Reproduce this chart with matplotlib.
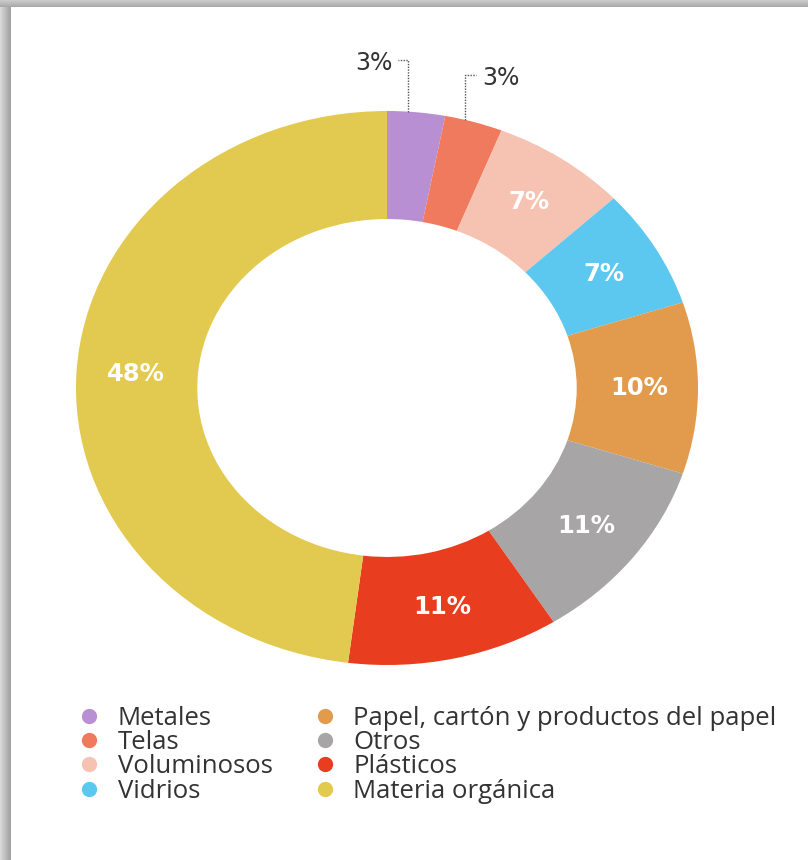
import numpy as np
import matplotlib
matplotlib.use("Agg")
import matplotlib.pyplot as plt
from matplotlib.lines import Line2D

# data (clockwise from the top)
categories = ["Metales", "Telas", "Voluminosos", "Vidrios",
              "Papel, cartón y productos del papel", "Otros",
              "Plásticos", "Materia orgánica"]
values = [3, 3, 7, 7, 10, 11, 11, 48]
colors = ["#b98fd4", "#f07a5e", "#f6c2b2", "#5cc8f0",
          "#e29b4c", "#a7a5a5", "#e83d1e", "#e2c94f"]
outside = ["Metales", "Telas"]   # small slices labelled outside

W, H = 808, 860
fig = plt.figure(figsize=(W / 100, H / 100), dpi=100)
fig.patch.set_facecolor("white")

# shadowed frame on the top and left edges
left = fig.add_axes([0, 0, 11 / W, 1])
left.imshow(np.linspace(0.86, 0.62, 50)[None, :], cmap="gray", vmin=0, vmax=1,
            aspect="auto", extent=[0, 1, 0, 1])
left.axis("off")
top = fig.add_axes([0, 1 - 7 / H, 1, 7 / H])
top.imshow(np.linspace(0.80, 0.66, 20)[:, None], cmap="gray", vmin=0, vmax=1,
           aspect="auto", extent=[0, 1, 0, 1])
top.axis("off")

# donut (slightly wider than tall, like the reference)
ax = fig.add_axes([76 / W, 1 - 665 / H, 622 / W, 554 / H])
wedges, _ = ax.pie(values, colors=colors, startangle=90, counterclock=False,
                   radius=1, wedgeprops=dict(width=0.39, linewidth=0))
ax.set_aspect("auto")
ax.set_xlim(-1, 1)
ax.set_ylim(-1, 1)
ax.axis("off")

for w, cat, v in zip(wedges, categories, values):
    if cat in outside:
        continue
    a = np.deg2rad((w.theta1 + w.theta2) / 2)
    ax.text(0.81 * np.cos(a), 0.81 * np.sin(a), f"{v}%", color="white",
            fontsize=17.5, fontweight="bold", family="DejaVu Sans",
            ha="center", va="center")

# leader lines for the two 3% slices
leader = dict(color="#555555", lw=1, ls=(0, (1, 1)), clip_on=False)
for w, cat, v in zip(wedges, categories, values):
    if cat not in outside:
        continue
    a = np.deg2rad(w.theta1 + 0.65 * (w.theta2 - w.theta1))
    x0, y0 = np.cos(a), np.sin(a)
    if cat == "Metales":
        ytop, dx, ha = 1.184, -0.03, "right"
    else:
        ytop, dx, ha = 1.13, 0.035, "left"
    ax.plot([x0, x0, x0 + dx], [y0, ytop, ytop], **leader)
    ax.text(x0 + dx * 1.6, ytop - 0.012, f"{v}%", color="#333333", fontsize=17,
            family="DejaVu Sans", ha=ha, va="center")

# legend
handles = [Line2D([], [], ls="", marker="o", markersize=11, color=c,
                  markeredgewidth=0) for c in colors]
leg = fig.legend(handles, categories, ncol=2, loc="upper left",
                 bbox_to_anchor=(79 / W, 1 - 706 / H), frameon=False,
                 prop=dict(family="Open Sans", size=18.5),
                 handlelength=0.8, handletextpad=0.7, columnspacing=1.65,
                 labelspacing=-0.03, borderpad=0, borderaxespad=0)
for t in leg.get_texts():
    t.set_color("#333333")

fig.savefig("out.png", dpi=100, facecolor="white")
